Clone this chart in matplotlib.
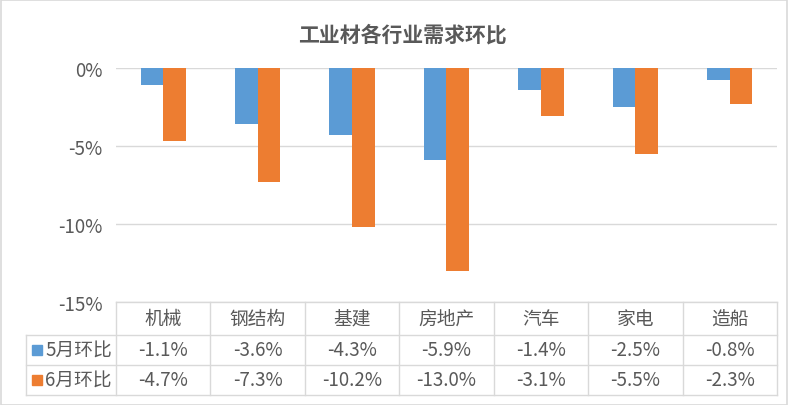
import matplotlib
matplotlib.use("Agg")
import matplotlib.pyplot as plt
from matplotlib.patches import Rectangle
import numpy as np

plt.rcParams['font.family'] = ['Noto Sans CJK SC', 'DejaVu Sans']

# Data
categories = ["机械", "钢结构", "基建", "房地产", "汽车", "家电", "造船"]
may = [-1.1, -3.6, -4.3, -5.9, -1.4, -2.5, -0.8]
june = [-4.7, -7.3, -10.2, -13.0, -3.1, -5.5, -2.3]
series_names = ["5月环比", "6月环比"]
colors = ["#5B9BD5", "#ED7D31"]
text_color = "#595959"
grid_color = "#D9D9D9"

W, H = 788, 406
fig = plt.figure(figsize=(W / 100, H / 100), dpi=100)

# plot area in pixels
left, right, top, bottom = 116, 777, 69, 303
ax = fig.add_axes([left / W, 1 - bottom / H, (right - left) / W, (bottom - top) / H])

x = np.arange(len(categories))
bw = 0.24
ax.bar(x - bw / 2, may, bw, color=colors[0], zorder=3)
ax.bar(x + bw / 2, june, bw, color=colors[1], zorder=3)

ax.set_xlim(-0.5, len(categories) - 0.5)
ax.set_ylim(-15, 0)
ax.set_yticks([0, -5, -10, -15])
ax.set_yticklabels(["0%", "-5%", "-10%", "-15%"])
ax.tick_params(axis='y', length=0, pad=9.5, labelsize=13.5, labelcolor=text_color)
ax.set_xticks([])
for s in ax.spines.values():
    s.set_visible(False)
ax.grid(axis='y', color=grid_color, linewidth=1, zorder=0)
ax.set_axisbelow(True)

# data table drawn in figure pixel coordinates
def fx(px):
    return px / W

def fy(py):
    return 1 - py / H

row_y = [303, 336, 366, 396]
table_left = 26
col_w = (right - left) / len(categories)
lkw = dict(color=grid_color, linewidth=1, transform=fig.transFigure)

# horizontal lines
fig.add_artist(plt.Line2D([fx(left), fx(right)], [fy(row_y[0])] * 2, **lkw))
for ry in row_y[1:]:
    fig.add_artist(plt.Line2D([fx(table_left), fx(right)], [fy(ry)] * 2, **lkw))
# vertical lines
fig.add_artist(plt.Line2D([fx(table_left)] * 2, [fy(row_y[1]), fy(row_y[3])], **lkw))
for i in range(len(categories) + 1):
    cx = left + i * col_w
    fig.add_artist(plt.Line2D([fx(cx)] * 2, [fy(row_y[0]), fy(row_y[3])], **lkw))

# header labels
for i, c in enumerate(categories):
    cx = left + (i + 0.5) * col_w
    fig.text(fx(cx), fy((row_y[0] + row_y[1]) / 2), c, ha='center', va='center',
             fontsize=13.5, color=text_color)

# series rows
for r, vals in enumerate([may, june]):
    cy = (row_y[r + 1] + row_y[r + 2]) / 2
    fig.add_artist(Rectangle((fx(32), fy(cy + 5)), 10 / W, 10 / H, color=colors[r],
                             transform=fig.transFigure))
    fig.text(fx(45), fy(cy), series_names[r], ha='left', va='center',
             fontsize=13.5, color=text_color)
    for i, v in enumerate(vals):
        cx = left + (i + 0.5) * col_w
        fig.text(fx(cx), fy(cy), f"{v:.1f}%", ha='center', va='center',
                 fontsize=13.5, color=text_color)

# title
fig.text(fx(402), fy(35), "工业材各行业需求环比", ha='center', va='center',
         fontsize=15, fontweight='bold', color=text_color)

# outer border
fig.add_artist(Rectangle((0.5 / W, 0.5 / H), 1 - 1.5 / W, 1 - 1.5 / H, fill=False,
                         edgecolor="#D9D9D9", linewidth=1.2, transform=fig.transFigure))

fig.savefig("out.png", dpi=100)
